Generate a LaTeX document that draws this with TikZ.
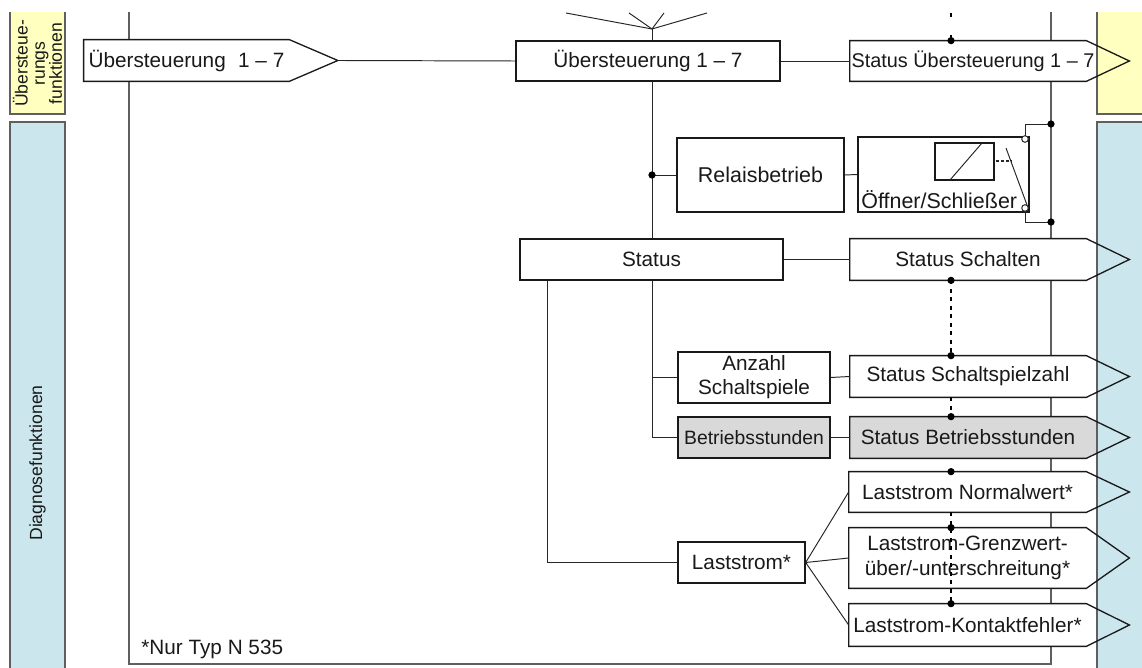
\documentclass[tikz,border=0pt]{standalone}
\usepackage{fontspec}
\setmainfont{Liberation Sans}
\usetikzlibrary{backgrounds}
\definecolor{sideyellow}{RGB}{255,255,192}
\definecolor{sideblue}{RGB}{204,230,237}
\definecolor{boxgray}{RGB}{217,217,217}
\definecolor{framegray}{RGB}{95,95,95}

\begin{document}
\begin{tikzpicture}[x=0.2mm, y=-0.2mm,
	every node/.style={font=\fontsize{11.8}{13.8}\selectfont, text=black!90, inner sep=0pt},
	box/.style={draw=black!90, line width=0.75pt, fill=white, align=center},
	sig/.style={minimum width=47.2mm, align=center},
	outline/.style={draw=black!90, line width=0.75pt},
	wire/.style={draw=black!85, line width=0.55pt},
	bus/.style={draw=framegray, line width=0.9pt},
	side/.style={draw=framegray, line width=0.8pt},
	dotline/.style={draw=black, line width=0.7pt, dash pattern=on 0.8mm off 0.9mm},
	junction/.style={circle, fill=black, minimum size=1.45mm}]
	\useasboundingbox (0,0) rectangle (1142,668);
	\newcommand{\TIP}{8.6mm}
	\node[sig, minimum width=41mm, minimum height=8.2mm] (IN) at (186.5,60.5){Übersteuerung\hspace{0.6em}1 – 7};
	\node[box, minimum width=52.8mm, minimum height=8mm] (UE) at (648,61){Übersteuerung 1 – 7};
	\node[sig, minimum height=8mm, font=\fontsize{11.3}{13}\selectfont] (SUE) at (968,61){\makebox[0pt]{\hspace{2mm}Status Übersteuerung 1 – 7}};
	\node[box, minimum width=33.4mm, minimum height=14.8mm, font=\fontsize{12.2}{14}\selectfont] (REL) at (760.5,175){Relaisbetrieb};
	\node[box, minimum width=34.2mm, minimum height=15mm] (OS) at (943.5,174.5){};
	\node[anchor=base west, font=\fontsize{12.2}{14}\selectfont] (OSL) at (861,209){Öffner/Schließer};
	\node[box, minimum width=52.6mm, minimum height=8.2mm] (ST) at (651.5,259.5){Status};
	\node[sig, minimum height=8.2mm] (SS) at (968,259.5){Status Schalten};
	\node[box, minimum width=30.4mm, minimum height=10.2mm] (AZ) at (754,377.5){Anzahl\\Schaltspiele};
	\node[sig, minimum height=8.2mm] (SZ) at (968,376.5){Status Schaltspielzahl};
	\node[box, fill=boxgray, minimum width=30.4mm, minimum height=8.2mm, font=\fontsize{11}{13}\selectfont] (BS) at (754,437.5){Betriebsstunden};
	\node[sig, minimum height=8.2mm] (SB) at (968,437.5){Status Betriebsstunden};
	\node[box, minimum width=25.4mm, minimum height=8.2mm] (LS) at (741.5,562.5){Laststrom*};
	\node[sig, minimum width=47.4mm, minimum height=8mm] (LN) at (967.5,492){Laststrom Normalwert*};
	\node[sig, minimum width=47.4mm, minimum height=12mm] (LG) at (967.5,558){Laststrom-Grenzwert-\\über/-unterschreitung*};
	\node[sig, minimum width=47.4mm, minimum height=8.4mm] (LK) at (967.5,625){Laststrom-Kontaktfehler*};
	\node[anchor=west] (NT) at (141,649){*Nur Typ N 535};
	\node[rotate=90, align=center, font=\fontsize{10}{9.8}\selectfont] (UEF) at (37.5,63.5){Übersteue-\\rungs\\funktionen};
	\node[rotate=90, font=\fontsize{10}{12}\selectfont] (DIA) at (37.5,463){Diagnosefunktionen};
	\begin{scope}[on background layer]
		\clip (0,13) rectangle (1142,668);
		\draw[bus] (129,0) |- (1051,664) -- (1051,0);
		\foreach \N/\T/\C in {IN/9.7mm/white, SUE/\TIP/white, SS/\TIP/white, SZ/\TIP/white, SB/\TIP/boxgray, LN/\TIP/white, LG/\TIP/white, LK/\TIP/white}
			\fill[\C] (\N.north west) -- (\N.north east) -- ([xshift=\T]\N.east) -- (\N.south east) -- (\N.south west) -- cycle;
		\fill[sideyellow] (10,0) rectangle (65,114);
		\draw[side] (10,0) |- (65,114) -- (65,0);
		\filldraw[side, fill=sideblue] (10,122) rectangle (65,700);
		\filldraw[side, fill=sideyellow] (1097,0) rectangle (1160,114);
		\filldraw[side, fill=sideblue] (1097,122) rectangle (1160,700);
	\end{scope}
	\foreach \N/\T in {IN/9.7mm, SUE/\TIP, SS/\TIP, SZ/\TIP, SB/\TIP, LN/\TIP, LG/\TIP, LK/\TIP}
		\draw[outline] (\N.north west) -- (\N.north east) -- ([xshift=\T]\N.east) -- (\N.south east) -- (\N.south west) -- cycle;
	\path (IN.east) ++(9.7mm,0) coordinate (INT);
	\coordinate (ANT) at (652,29);
	\coordinate (DL) at (951,0);
	\coordinate (KT) at (1051,124);
	\coordinate (KB) at (1051,222);
	\coordinate (CT) at (1025,139);
	\coordinate (CB) at (1025,208);
	\draw[wire] (INT) -- (UE.west);
	\draw[wire] (UE.east) -- (SUE.west);
	\foreach \x in {566,629,664,707}
		\draw[wire] (ANT) -- (\x,13);
	\draw[wire] (ANT) -- (ANT |- UE.north);
	\draw[wire] (UE.south -| ANT) -- (ST.north -| ANT);
	\draw[wire] (REL.west -| ANT) -- (REL.west);
	\draw[wire] (REL.east) -- (OS.west);
	\draw[wire] (ST.east) -- (SS.west);
	\draw[wire] (ST.south -| ANT) |- (BS.west);
	\draw[wire] (AZ.west -| ANT) -- (AZ.west);
	\draw[wire] ([xshift=5.6mm]ST.south west) |- (LS.west);
	\draw[wire] (AZ.east) -- (SZ.west);
	\draw[wire] (BS.east) -- (SB.west);
	\foreach \N in {LN,LG,LK}
		\draw[wire] (LS.east) -- (\N.west);
	\draw[outline, line width=0.65pt] (935,143) rectangle (994,180);
	\draw[wire] (950,180) -- (982,143);
	\draw[wire, line width=0.8pt, dash pattern=on 0.6mm off 0.4mm] (996,161) -- (1012,161);
	\draw[wire] (1006,148) -- (1027,205);
	\draw[wire] (CT) ++(0,-3.3) |- (KT);
	\draw[wire] (CB) ++(0,3.3) |- (KB);
	\foreach \P in {CT,CB}
		\filldraw[wire, fill=white] (\P) circle[radius=0.66mm];
	\draw[dotline, dash pattern=on 0.8mm off 3.6mm] (951,13) -- (SUE.north -| DL);
	\draw[dotline] (SS.south -| DL) -- (SZ.north -| DL);
	\draw[dotline] (SZ.south -| DL) -- (SB.north -| DL);
	\draw[dotline] (LN.south -| DL) -- (LK.north -| DL);
	\foreach \P [count=\i] in {(REL.west -| ANT), (KT), (KB), (SUE.north -| DL), (SS.south -| DL), (SZ.north -| DL), (SB.north -| DL), (LN.north -| DL), (LG.north -| DL), (LK.north -| DL)}
		\node[junction] (J\i) at \P {};
\end{tikzpicture}
\end{document}
